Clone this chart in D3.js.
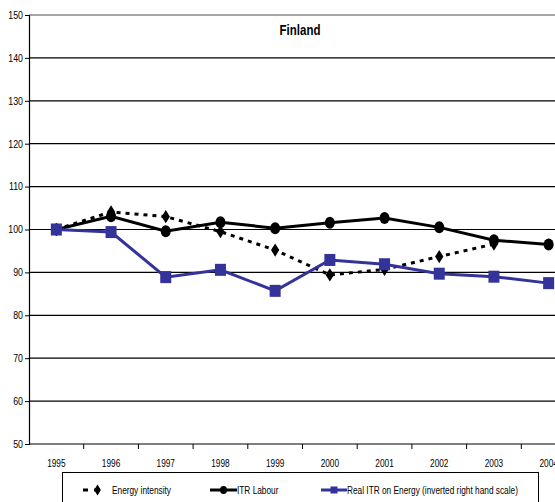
<!DOCTYPE html>
<html>
<head>
<meta charset="utf-8">
<script src="https://cdn.jsdelivr.net/npm/d3@7"></script>
<style>
  html, body { margin: 0; padding: 0; background: #fff; }
  svg { display: block; }
  text { font-family: "Liberation Sans", Arial, sans-serif; fill: #000; }
</style>
</head>
<body>
<svg id="chart" width="555" height="502"></svg>
<script>
// Index values, 1995 = 100
const years = ["1995", "1996", "1997", "1998", "1999", "2000", "2001", "2002", "2003", "2004"];
const energyIntensity = [100, 104.1, 103.0, 99.5, 95.2, 89.4, 90.7, 93.7, 96.6, null];
const itrLabour = [100, 103.1, 99.6, 101.7, 100.3, 101.6, 102.7, 100.5, 97.5, 96.5];
const realItrEnergy = [100, 99.4, 88.9, 90.6, 85.7, 92.9, 91.9, 89.7, 89.0, 87.5];
const yTicks = [50, 60, 70, 80, 90, 100, 110, 120, 130, 140, 150];
const legendLabels = ["Energy intensity", "ITR Labour", "Real ITR on Energy (inverted right hand scale)"];

const svg = d3.select("#chart");
const plotLeft = 29, plotTop = 15, plotBottom = 444;
const band = 54.7;
const narrow = 0.79; // horizontal squeeze for a condensed look
const fs = 10.5;

const x = d3.scaleBand().domain(years).range([plotLeft, plotLeft + band * years.length]);
const y = d3.scaleLinear().domain([50, 150]).range([plotBottom, plotTop]);
const cx = d => x(d) + x.bandwidth() / 2;

// condensed text helper
function label(g, tx, ty, str, opts = {}) {
  return g.append("text")
    .attr("transform", `translate(${tx},${ty}) scale(${opts.squeeze || narrow},1)`)
    .attr("text-anchor", opts.anchor || "start")
    .attr("font-size", opts.size || fs)
    .attr("font-weight", opts.weight || "normal")
    .text(str);
}

// Gridlines
svg.append("g").selectAll("line")
  .data(yTicks.filter(t => t > 50))
  .join("line")
  .attr("x1", plotLeft).attr("x2", 555)
  .attr("y1", d => y(d)).attr("y2", d => y(d))
  .attr("stroke", d => d === 150 ? "#8a8a8a" : "#000")
  .attr("stroke-width", d => d === 150 ? 1.5 : 1.2);

// Y axis
const yAxis = svg.append("g")
  .attr("transform", `translate(${plotLeft},0)`)
  .call(d3.axisLeft(y).tickValues(yTicks).tickSize(4).tickPadding(3));
yAxis.select(".domain").attr("stroke", "#000").attr("stroke-width", 1.2);
yAxis.selectAll(".tick line").attr("stroke", "#000");
yAxis.selectAll(".tick text")
  .attr("font-size", fs).attr("font-family", null)
  .attr("x", -6 / 0.84)
  .attr("transform", "scale(0.84,1)");

// X axis (ticks on band boundaries)
const xAxisG = svg.append("g").attr("transform", `translate(0,${plotBottom})`);
xAxisG.append("line").attr("x1", plotLeft).attr("x2", 555).attr("stroke", "#000").attr("stroke-width", 1.2);
xAxisG.selectAll("line.tk")
  .data(years)
  .join("line").attr("class", "tk")
  .attr("x1", d => x(d) + x.bandwidth()).attr("x2", d => x(d) + x.bandwidth())
  .attr("y1", 0).attr("y2", 5).attr("stroke", "#000");
years.forEach(d => label(xAxisG, cx(d), 23, d, { anchor: "middle" }));

// Title
label(svg, 300, 35, "Finland", { anchor: "middle", size: 14, weight: "bold", squeeze: 0.82 });

const lineGen = d3.line()
  .defined(d => d.v != null)
  .x(d => cx(d.year)).y(d => y(d.v));
const toPts = arr => years.map((yr, i) => ({ year: yr, v: arr[i] }));

// Energy intensity (dotted, diamonds)
const eiPts = toPts(energyIntensity);
svg.append("path").datum(eiPts).attr("d", lineGen)
  .attr("fill", "none").attr("stroke", "#000").attr("stroke-width", 3)
  .attr("stroke-dasharray", "4,5");
const diamond = d3.symbol().type(d3.symbolDiamond).size(60);
svg.append("g").selectAll("path")
  .data(eiPts.filter(d => d.v != null))
  .join("path")
  .attr("d", diamond)
  .attr("transform", d => `translate(${cx(d.year)},${y(d.v)}) scale(1,0.92)`)
  .attr("fill", "#000");

// ITR Labour (solid, circles)
const itPts = toPts(itrLabour);
svg.append("path").datum(itPts).attr("d", lineGen)
  .attr("fill", "none").attr("stroke", "#000").attr("stroke-width", 3);
svg.append("g").selectAll("ellipse")
  .data(itPts)
  .join("ellipse")
  .attr("cx", d => cx(d.year)).attr("cy", d => y(d.v))
  .attr("rx", 5).attr("ry", 6)
  .attr("fill", "#000");

// Real ITR on Energy (blue, squares)
const blue = "#333399";
const rePts = toPts(realItrEnergy);
svg.append("path").datum(rePts).attr("d", lineGen)
  .attr("fill", "none").attr("stroke", blue).attr("stroke-width", 3);
svg.append("g").selectAll("rect")
  .data(rePts)
  .join("rect")
  .attr("x", d => cx(d.year) - 5.5).attr("y", d => y(d.v) - 6)
  .attr("width", 11).attr("height", 12)
  .attr("fill", blue);

// Legend
const lg = svg.append("g");
lg.append("rect").attr("x", 62.5).attr("y", 472.5).attr("width", 476).attr("height", 40)
  .attr("fill", "#fff").attr("stroke", "#000").attr("stroke-width", 1);
const ly = 490;
// Energy intensity sample
lg.append("line").attr("x1", 83).attr("x2", 88).attr("y1", ly).attr("y2", ly)
  .attr("stroke", "#000").attr("stroke-width", 3);
lg.append("line").attr("x1", 94).attr("x2", 100).attr("y1", ly).attr("y2", ly)
  .attr("stroke", "#000").attr("stroke-width", 3);
lg.append("path").attr("d", diamond)
  .attr("transform", `translate(97.5,${ly}) scale(0.8,0.75)`).attr("fill", "#000");
label(lg, 112, ly + 4, legendLabels[0]);
// ITR Labour sample
lg.append("line").attr("x1", 210).attr("x2", 237).attr("y1", ly).attr("y2", ly)
  .attr("stroke", "#000").attr("stroke-width", 3);
lg.append("ellipse").attr("cx", 223.5).attr("cy", ly).attr("rx", 3.5).attr("ry", 4).attr("fill", "#000");
label(lg, 237, ly + 4, legendLabels[1]);
// Real ITR sample
lg.append("line").attr("x1", 321).attr("x2", 347).attr("y1", ly).attr("y2", ly)
  .attr("stroke", blue).attr("stroke-width", 3);
lg.append("rect").attr("x", 330.5).attr("y", ly - 3.5).attr("width", 7).attr("height", 7).attr("fill", blue);
label(lg, 347, ly + 4, legendLabels[2]);
</script>
</body>
</html>
